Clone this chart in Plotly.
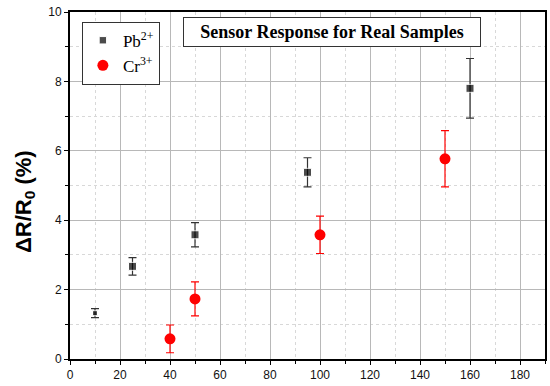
import plotly.graph_objects as go

pb_x = [10, 25, 50, 95, 160]
pb_y = [1.32, 2.67, 3.58, 5.38, 7.8]
pb_err = [0.13, 0.25, 0.35, 0.42, 0.86]
pb_size = [5, 8, 8, 8, 8]

cr_x = [40, 50, 100, 150]
cr_y = [0.58, 1.73, 3.58, 5.77]
cr_err = [0.4, 0.49, 0.54, 0.81]

fig = go.Figure()
fig.add_trace(go.Scatter(
    x=pb_x, y=pb_y, mode="markers", name="Pb<sup>2+</sup>",
    marker=dict(symbol="square", color="black", size=pb_size),
    error_y=dict(type="data", array=pb_err, color="#333333", thickness=1.2, width=4),
))
fig.add_trace(go.Scatter(
    x=cr_x, y=cr_y, mode="markers", name="Cr<sup>3+</sup>",
    marker=dict(symbol="circle", color="#ff0000", size=11),
    error_y=dict(type="data", array=cr_err, color="#ff0000", thickness=1.2, width=4),
))

axis_common = dict(
    showline=True, linecolor="black", linewidth=2, mirror=True,
    ticks="outside", ticklen=4, tickwidth=1, tickcolor="black",
    showgrid=True, gridcolor="#b8b8b8", gridwidth=1,
    zeroline=False, automargin=False, ticklabeloverflow="allow",
    tickfont=dict(family="Liberation Sans, Arial", size=12, color="#111111"),
)

fig.update_xaxes(
    range=[0, 190], dtick=20, tick0=0,
    minor=dict(dtick=10, ticks="outside", ticklen=3, tickcolor="black",
               showgrid=True, gridcolor="#d8d8d8", griddash="dot"),
    **axis_common,
)
fig.update_yaxes(
    range=[0, 10], dtick=2, tick0=0,
    minor=dict(dtick=1, ticks="outside", ticklen=3, tickcolor="black",
               showgrid=True, gridcolor="#d8d8d8", griddash="dot"),
    **axis_common,
)

# y-axis title placed as a rotated annotation for exact positioning
fig.add_annotation(
    x=-0.095, y=0.455, xref="paper", yref="paper",
    text="<b>ΔR/R<sub>0</sub> (%)</b>", textangle=-90,
    showarrow=False, xanchor="center", yanchor="middle",
    font=dict(family="Liberation Sans, Arial", size=22, color="black"),
)

fig.add_annotation(
    x=0.552, y=0.942, xref="paper", yref="paper",
    text="<b>Sensor Response for Real Samples</b>",
    showarrow=False, xanchor="center", yanchor="middle",
    font=dict(family="Liberation Serif, serif", size=18, color="black"),
    bordercolor="#333333", borderwidth=1, bgcolor="white",
    width=294, height=26,
)

fig.update_layout(
    width=550, height=386,
    margin=dict(l=70, r=5, t=12, b=27),
    plot_bgcolor="white", paper_bgcolor="white",
    showlegend=True,
    legend=dict(
        x=0.025, y=0.972, xanchor="left", yanchor="top",
        bordercolor="#333333", borderwidth=1, bgcolor="white",
        font=dict(family="Liberation Serif, serif", size=17, color="black"),
        itemsizing="trace", itemwidth=30,
    ),
)

# remove the page's default 8px body margin so the figure fills the window
fig.write_html("out.html", config={"displayModeBar": False},
               post_script="document.body.style.margin='0px';")
